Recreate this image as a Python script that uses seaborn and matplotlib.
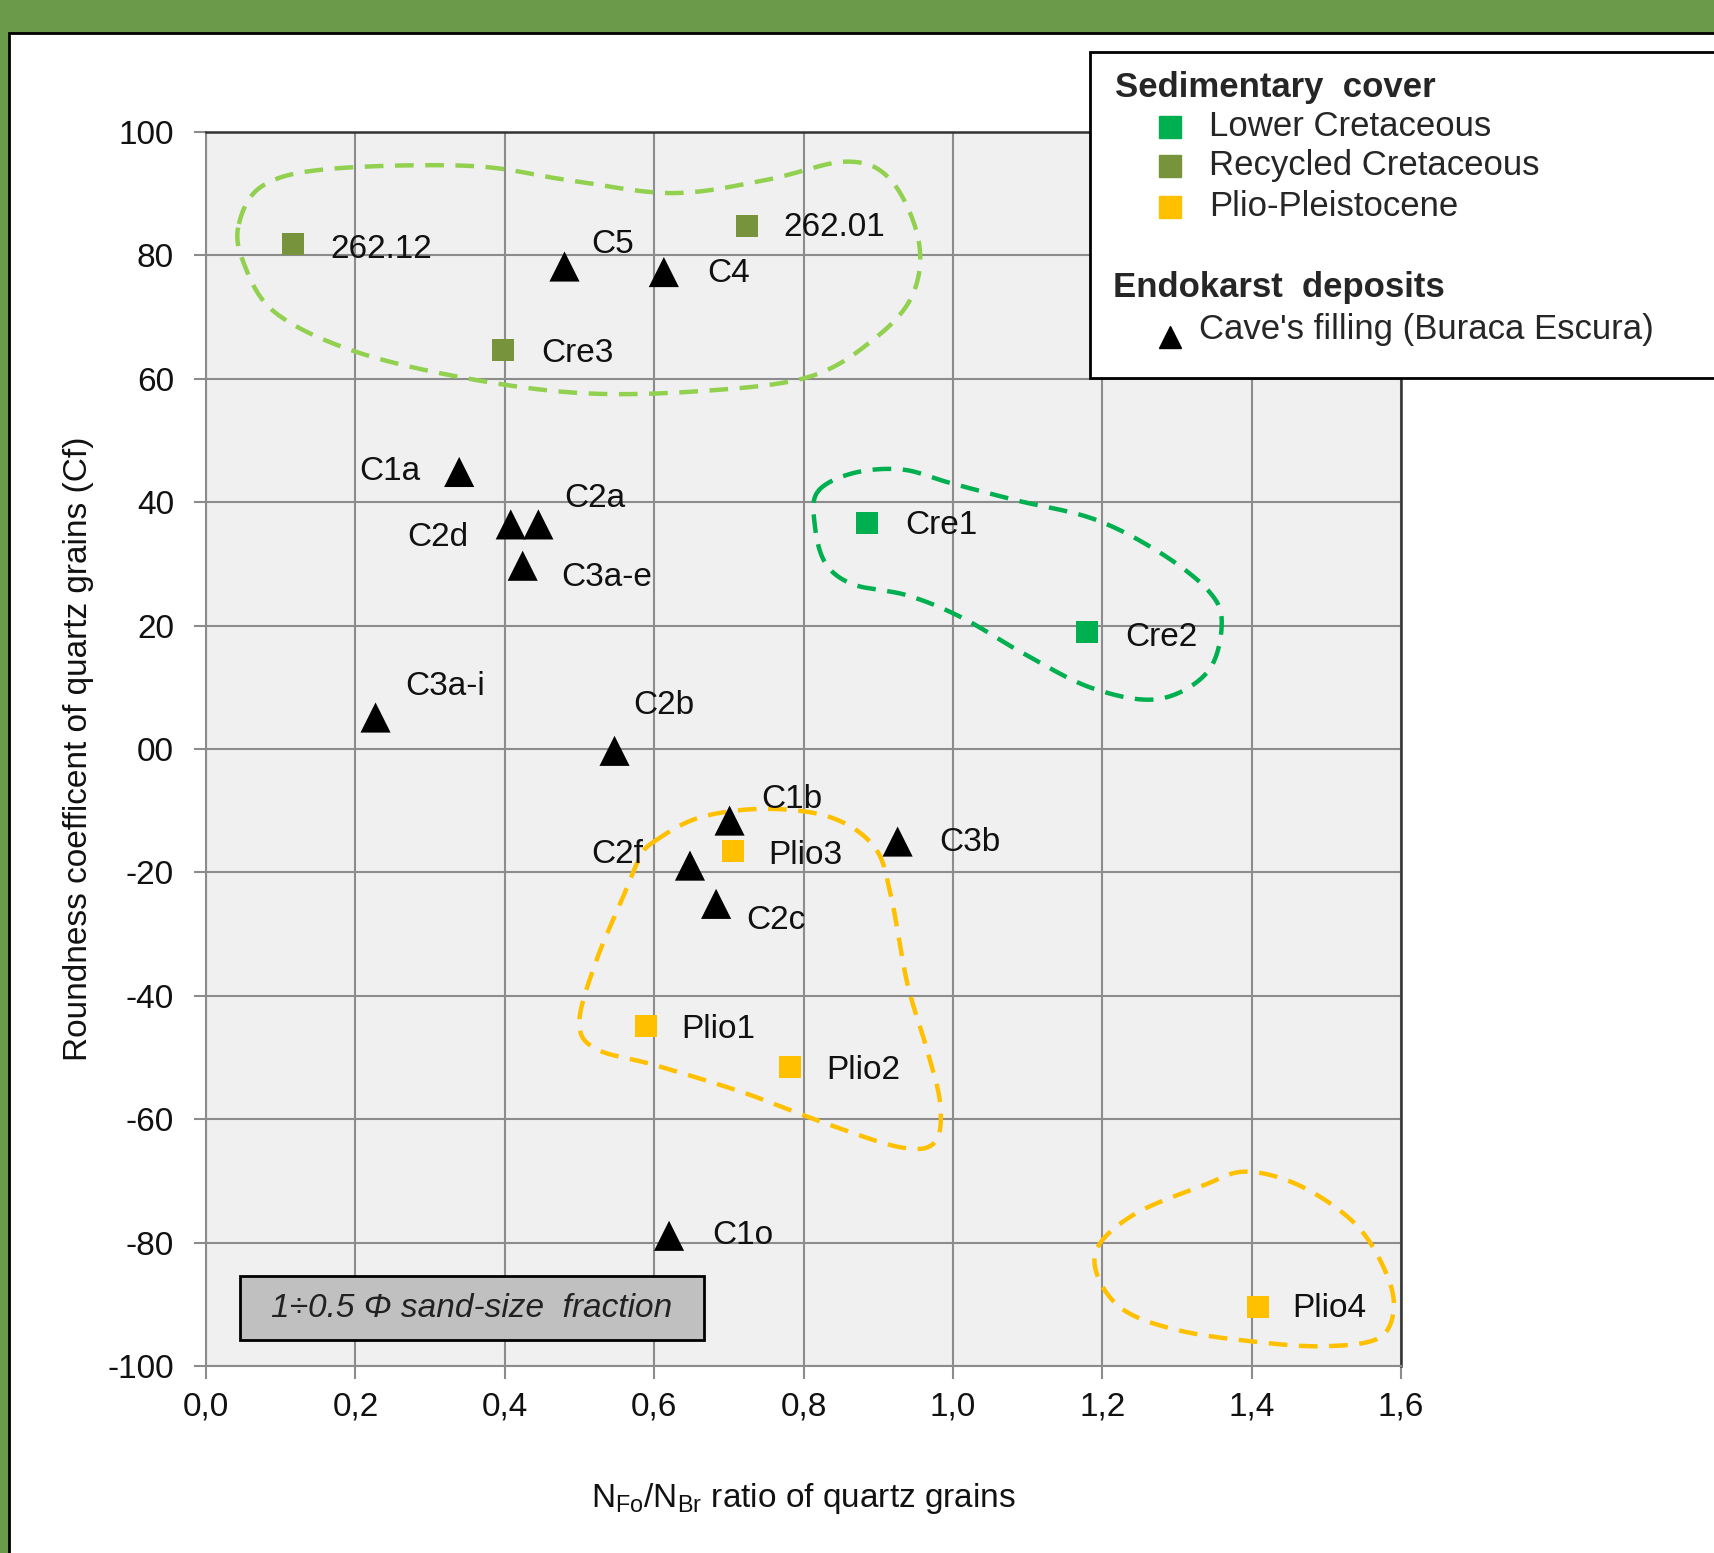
import numpy as np
import pandas as pd
import matplotlib
matplotlib.use('Agg')
import matplotlib.pyplot as plt
import seaborn as sns
from matplotlib.patches import Rectangle
from matplotlib.lines import Line2D

# Sample data
names = ['262.12', '262.01', 'Cre3', 'Cre1', 'Cre2', 'Plio3', 'Plio1', 'Plio2', 'Plio4',
         'C5', 'C4', 'C1a', 'C2d', 'C2a', 'C3a-e', 'C3a-i', 'C2b', 'C1b', 'C3b', 'C2f', 'C2c', 'C1o']
ratio = [0.117, 0.724, 0.398, 0.885, 1.180, 0.706, 0.589, 0.782, 1.408,
         0.480, 0.613, 0.339, 0.408, 0.445, 0.424, 0.227, 0.547, 0.701, 0.926, 0.648, 0.683, 0.620]
cf = [81.8, 84.8, 64.7, 36.6, 18.9, -16.6, -44.9, -51.6, -90.4,
      78.2, 77.3, 44.9, 36.4, 36.4, 29.7, 5.1, -0.3, -11.6, -15.0, -18.9, -25.1, -78.9]
groups = ['Recycled Cretaceous'] * 3 + ['Lower Cretaceous'] * 2 + ['Plio-Pleistocene'] * 4 + \
         ["Cave's filling (Buraca Escura)"] * 13

# label offsets (pixels) and alignment
label_dx = [37, 37, 38, 38, 38, 35, 35, 36, 35, 27, 43, -39, -42, 26, 39, 30, 19, 32, 42, -47, 30, 43]
label_dy = [-5, -2, -4, -2, -5, -4, -3, -3, -2, 22, -1, 0, -13, 26, -12, 31, 45, 21, -1, 11, -17, 0]

xticks = [0.0, 0.2, 0.4, 0.6, 0.8, 1.0, 1.2, 1.4, 1.6]
xticklabels = ['0,0', '0,2', '0,4', '0,6', '0,8', '1,0', '1,2', '1,4', '1,6']
yticks = [100, 80, 60, 40, 20, 0, -20, -40, -60, -80, -100]
yticklabels = ['100', '80', '60', '40', '20', '00', '-20', '-40', '-60', '-80', '-100']

# hand-drawn envelopes round the groups
env_recycled_x = [0.044, 0.076, 0.164, 0.354, 0.485, 0.624, 0.749, 0.858, 0.917, 0.954,
                  0.946, 0.895, 0.807, 0.661, 0.500, 0.339, 0.193, 0.091, 0.050]
env_recycled_y = [85.1, 91.3, 94.0, 94.5, 92.2, 90.1, 92.2, 95.2, 92.2, 82.5,
                  73.6, 66.5, 60.3, 58.0, 57.7, 60.3, 64.7, 70.9, 78.9]
env_lower_x = [0.819, 0.866, 0.932, 0.997, 1.085, 1.188, 1.275, 1.341, 1.360,
               1.341, 1.275, 1.188, 1.100, 1.012, 0.939, 0.866, 0.829, 0.815]
env_lower_y = [41.7, 44.7, 45.3, 43.1, 40.3, 37.3, 32.0, 25.8, 20.5,
               12.5, 8.1, 9.8, 15.1, 21.3, 24.9, 26.7, 30.2, 36.4]
env_plio_x = [0.600, 0.661, 0.749, 0.837, 0.895, 0.917, 0.939, 0.965, 0.983, 0.976,
              0.932, 0.837, 0.720, 0.603, 0.522, 0.500, 0.522, 0.559, 0.581]
env_plio_y = [-15.0, -11.1, -9.7, -11.1, -15.9, -23.8, -38.0, -48.6, -57.5, -63.7,
              -64.6, -61.0, -55.7, -51.3, -48.6, -44.2, -34.5, -23.8, -17.6]
env_plio4_x = [1.195, 1.246, 1.334, 1.392, 1.465, 1.539, 1.580, 1.590, 1.568,
               1.495, 1.407, 1.305, 1.231, 1.195]
env_plio4_y = [-80.5, -75.2, -70.8, -68.5, -70.8, -77.0, -84.9, -91.1, -95.6,
               -96.8, -96.1, -94.3, -91.1, -85.8]

palette = {'Lower Cretaceous': '#00b050', 'Recycled Cretaceous': '#77933c',
           'Plio-Pleistocene': '#ffc000', "Cave's filling (Buraca Escura)": '#000000'}
markers = {'Lower Cretaceous': 's', 'Recycled Cretaceous': 's',
           'Plio-Pleistocene': 's', "Cave's filling (Buraca Escura)": '^'}
sizes = {'Lower Cretaceous': 250, 'Recycled Cretaceous': 250,
         'Plio-Pleistocene': 250, "Cave's filling (Buraca Escura)": 470}

df = pd.DataFrame({'name': names, 'ratio': ratio, 'cf': cf, 'group': groups})

sns.set_style('white')
plt.rcParams['font.family'] = ['Liberation Sans', 'DejaVu Sans']
plt.rcParams['mathtext.fontset'] = 'custom'
plt.rcParams['mathtext.rm'] = 'Liberation Sans'

fig = plt.figure(figsize=(17.14, 15.53), dpi=100, facecolor='#6a9a4a')
W, H = 1714, 1553

# white panel with a black border
fig.add_artist(Rectangle((9 / W, -0.1), 1.2, (H - 33) / H + 0.1, transform=fig.transFigure,
                         facecolor='white', edgecolor='black', lw=2, zorder=0))

ax = fig.add_axes([206 / W, 187 / H, 1195 / W, 1234 / H])
ax.set_facecolor('#f0f0f0')


def smooth_closed(xs, ys, n=30):
    P = np.column_stack([xs, ys])
    N = len(P)
    t = np.linspace(0, 1, n, endpoint=False)[:, None]
    out = []
    for i in range(N):
        p0, p1, p2, p3 = P[i - 1], P[i], P[(i + 1) % N], P[(i + 2) % N]
        out.append(0.5 * (2 * p1 + (-p0 + p2) * t + (2 * p0 - 5 * p1 + 4 * p2 - p3) * t ** 2
                          + (-p0 + 3 * p1 - 3 * p2 + p3) * t ** 3))
    out = np.vstack(out + [out[0][:1]])
    return out[:, 0], out[:, 1]


for ex, ey, col in [(env_recycled_x, env_recycled_y, '#92d050'),
                    (env_lower_x, env_lower_y, '#00b050'),
                    (env_plio_x, env_plio_y, '#ffc000'),
                    (env_plio4_x, env_plio4_y, '#ffc000')]:
    sx, sy = smooth_closed(ex, ey)
    ax.plot(sx, sy, color=col, lw=3.2, ls=(0, (4.2, 2.6)), zorder=2, clip_on=False)

sns.scatterplot(data=df, x='ratio', y='cf', hue='group', style='group', size='group',
                palette=palette, markers=markers, sizes=sizes, linewidth=0,
                legend=False, ax=ax, zorder=3)

for n, xx, yy, dx, dy in zip(names, ratio, cf, label_dx, label_dy):
    ax.annotate(n, (xx, yy), xytext=(dx, dy), textcoords='offset pixels',
                ha='left' if dx > 0 else 'right', va='center', fontsize=24, color='#111111',
                zorder=4)

ax.set_xlim(0, 1.6)
ax.set_ylim(-100, 100)
ax.set_xticks(xticks)
ax.set_xticklabels(xticklabels)
ax.set_yticks(yticks)
ax.set_yticklabels(yticklabels)
ax.grid(True, color='#8c8c8c', lw=1.5)
ax.set_axisbelow(True)
ax.tick_params(axis='both', labelsize=24, length=9, width=1.5, color='#8c8c8c',
               labelcolor='#111111', direction='out', left=True, bottom=True)
ax.tick_params(axis='x', pad=9)
ax.tick_params(axis='y', pad=14)
for side in ['left', 'bottom']:
    ax.spines[side].set_color('#8c8c8c')
    ax.spines[side].set_linewidth(1.5)
for side in ['top', 'right']:
    ax.spines[side].set_color('#333333')
    ax.spines[side].set_linewidth(1.8)

ax.set_xlabel(r'N$_{\mathrm{Fo}}$/N$_{\mathrm{Br}}$ ratio of quartz grains', fontsize=24,
              color='#111111')
ax.set_ylabel('Roundness coefficent of quartz grains (Cf)', fontsize=24, color='#111111')
ax.xaxis.set_label_coords(0.5, -0.093)
ax.yaxis.set_label_coords(-0.094, 0.5)

# note box
ax.add_patch(Rectangle((0.0285, 0.021), 0.388, 0.052, transform=ax.transAxes,
                       facecolor='#c0c0c0', edgecolor='black', lw=2, zorder=5))
ax.text(0.222, 0.047, '1÷0.5 Φ sand-size  fraction', transform=ax.transAxes,
        ha='center', va='center', fontsize=24, style='italic', color='#222222', zorder=6)

# legend box (runs off the right edge like the original)
fig.add_artist(Rectangle((1090 / W, 1 - 378 / H), 0.5, (378 - 52) / H, transform=fig.transFigure,
                         facecolor='white', edgecolor='black', lw=2, zorder=10))


def fx(px):
    return px / W


def fy(py):
    return 1 - py / H


fig.text(fx(1115), fy(88), 'Sedimentary  cover', fontsize=25, fontweight='bold',
         va='center', ha='left', zorder=11)
for row_y, grp in zip([127, 166, 207], ['Lower Cretaceous', 'Recycled Cretaceous', 'Plio-Pleistocene']):
    fig.add_artist(Line2D([fx(1170)], [fy(row_y)], marker='s', markersize=16, lw=0,
                          color=palette[grp], transform=fig.transFigure, zorder=11))
    fig.text(fx(1209), fy(row_y), grp, fontsize=25, va='center', ha='left', zorder=11)
fig.text(fx(1113), fy(287), 'Endokarst  deposits', fontsize=25, fontweight='bold',
         va='center', ha='left', zorder=11)
fig.add_artist(Line2D([fx(1170)], [fy(337)], marker='^', markersize=16, lw=0,
                      color='black', transform=fig.transFigure, zorder=11))
fig.text(fx(1199), fy(329), "Cave's filling (Buraca Escura)", fontsize=25, va='center',
         ha='left', zorder=11)

fig.savefig('out.png', dpi=100, facecolor=fig.get_facecolor())
